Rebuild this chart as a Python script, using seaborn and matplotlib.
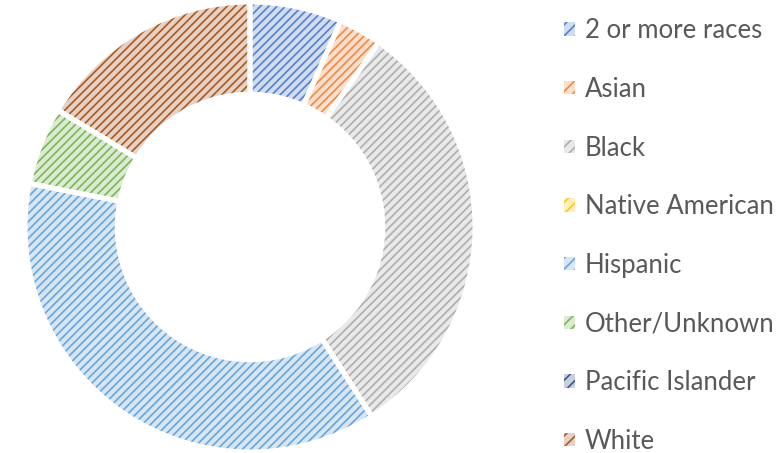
"""
plot.py
Donut chart of enrollment by race/ethnicity (Excel style pattern fills).
"""

import matplotlib
matplotlib.use("Agg")
import matplotlib.pyplot as plt
import matplotlib.colors as mcolors
from matplotlib.patches import Patch
import seaborn as sns

# data (percent shares)
categories = ["2 or more races", "Asian", "Black", "Native American",
              "Hispanic", "Other/Unknown", "Pacific Islander", "White"]
shares = [6.6, 3.1, 31.2, 0.0, 37.2, 5.6, 0.0, 16.3]
colors = ["#4472C4", "#ED7D31", "#A5A5A5", "#FFC000",
          "#5B9BD5", "#70AD47", "#264478", "#9E480E"]

sns.set_theme(style="white")
plt.rcParams["font.family"] = ["Lato", "DejaVu Sans"]
plt.rcParams["hatch.linewidth"] = 1.2


def tint(c, amount=0.75):
    r, g, b = mcolors.to_rgb(c)
    return (r + (1 - r) * amount, g + (1 - g) * amount, b + (1 - b) * amount)


fills = [tint(c) for c in colors]
lines = [tint(c, 0.1) for c in colors]

W, H = 779, 453
fig = plt.figure(figsize=(W / 100, H / 100), dpi=100)
cx, cy, R = 250, 227, 225
ax = fig.add_axes([(cx - R) / W, (H - cy - R) / H, 2 * R / W, 2 * R / H])

# hatched wedges (hatch takes the edge colour), then white separators on top
wedges, _ = ax.pie(shares, colors=fills, startangle=90, counterclock=False,
                   wedgeprops=dict(width=0.41, linewidth=0))
for w, c in zip(wedges, lines):
    w.set_hatch("////")
    w.set_edgecolor(c)
    w.set_linewidth(0)
ax.pie(shares, colors=["none"] * len(shares), startangle=90, counterclock=False,
       wedgeprops=dict(width=0.41, linewidth=3.6, edgecolor="white"))
ax.set_xlim(-1, 1)
ax.set_ylim(-1, 1)
ax.set_aspect("equal")
ax.axis("off")

handles = [Patch(facecolor=f, edgecolor=c, hatch="///", linewidth=0)
           for f, c in zip(fills, lines)]
fig.legend(handles, categories, loc="upper left", bbox_to_anchor=(554 / W, 1 - 8 / H),
           frameon=False, fontsize=18.5, labelcolor="#595959",
           handlelength=0.42, handleheight=0.42, handletextpad=0.38,
           labelspacing=1.31, borderaxespad=0)

fig.savefig("out.png", dpi=100)
plt.close(fig)
